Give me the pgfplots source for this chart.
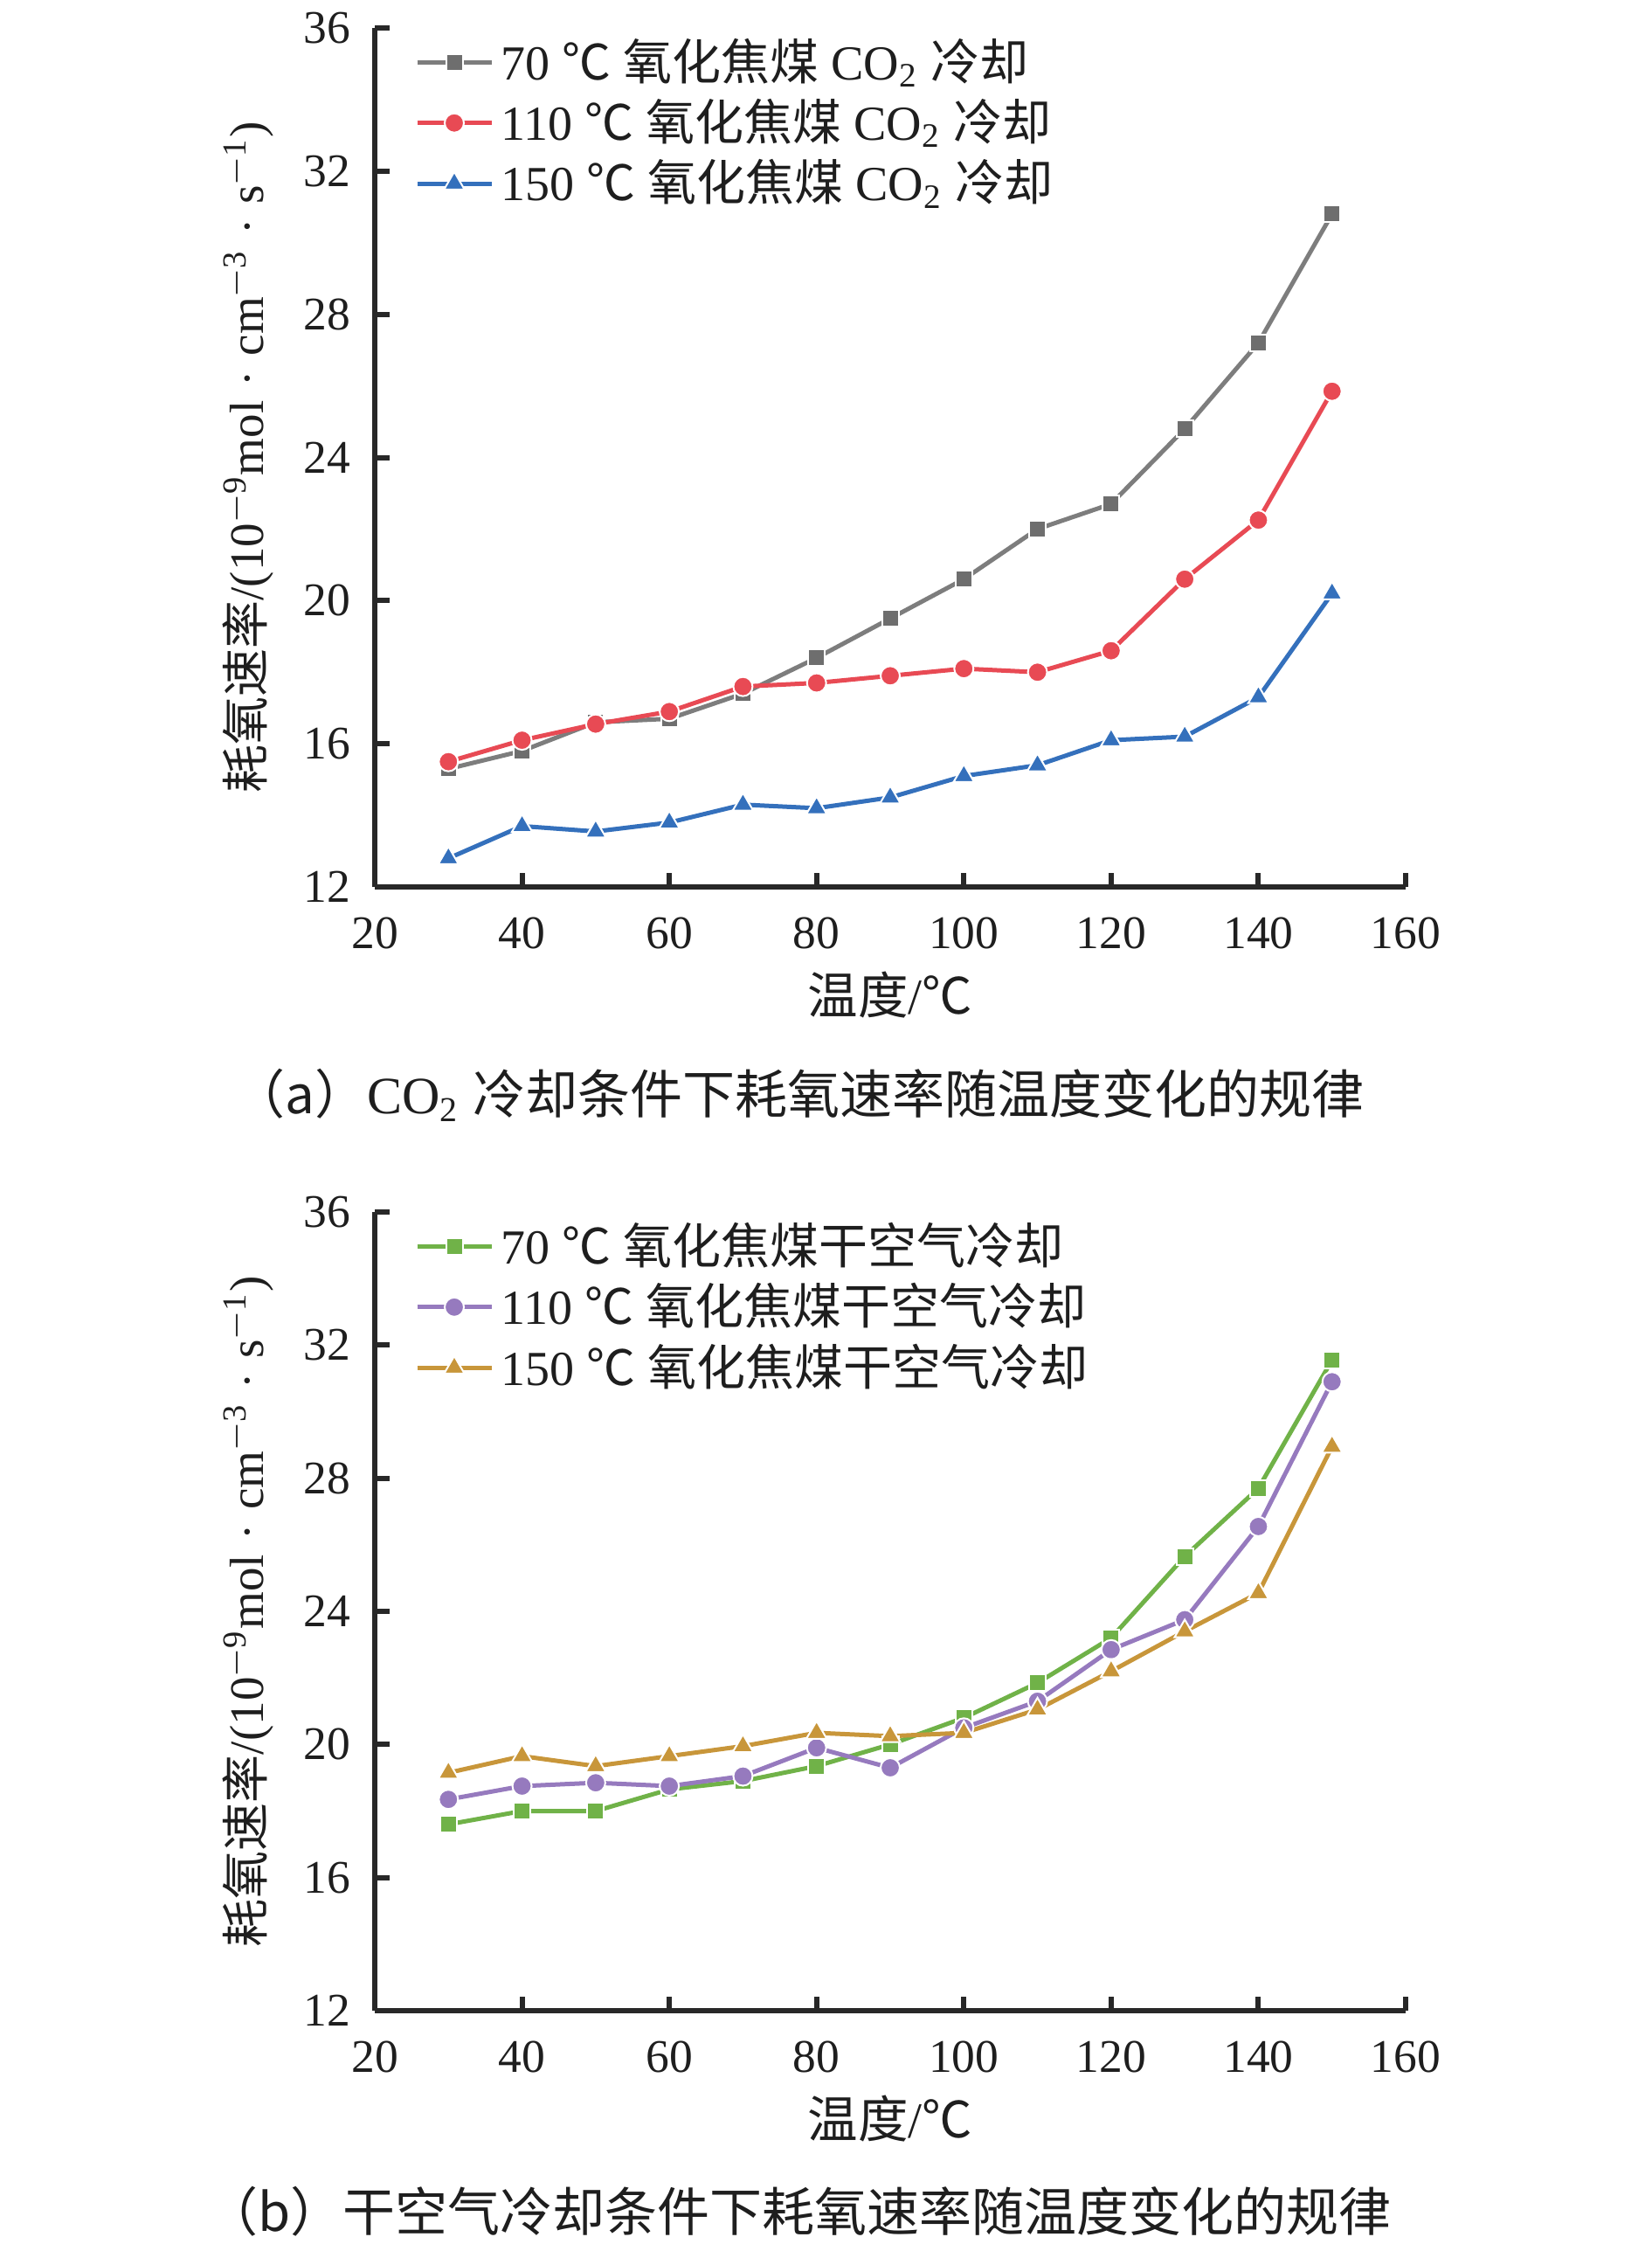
\documentclass[border=0pt]{standalone}
\usepackage{fontspec}
\setmainfont{Liberation Serif}
\newfontfamily\cjk{Noto Sans CJK SC}
\usepackage{pgfplots}
\pgfplotsset{compat=1.18}
\definecolor{axisc}{RGB}{40,40,40}
\definecolor{textc}{RGB}{30,30,30}
\definecolor{grayln}{RGB}{125,125,125}
\definecolor{graymk}{RGB}{110,110,110}
\definecolor{redc}{RGB}{232,74,84}
\definecolor{bluec}{RGB}{52,112,188}
\definecolor{greenc}{RGB}{112,178,72}
\definecolor{purplec}{RGB}{150,122,190}
\definecolor{goldc}{RGB}{200,150,58}
\newcommand{\degC}{{\cjk ℃}}
\newcommand{\dotsp}{\hspace{0.3em}·\hspace{0.3em}}
\pgfplotsset{myax/.style={
  scale only axis, width=236pt,
  xmin=20, xmax=160, ymin=12, ymax=36,
  xtick={20,40,...,160}, ytick={12,16,...,36},
  axis lines=left, axis line style={-, line width=1.2pt, color=axisc},
  tick style={line width=1.2pt, color=axisc}, major tick length=3.3pt, tick align=inside,
  ticklabel style={font=\fontsize{10.7}{12}\selectfont, color=textc},
  /pgf/number format/assume math mode=true,
  xticklabel style={yshift=-3.5pt}, yticklabel style={xshift=-2pt},
  xlabel={{\cjk 温度}/\degC},
  xlabel style={at={(axis description cs:0.5,0)}, anchor=center, yshift=-24.6pt, font=\fontsize{11.5}{13}\selectfont, color=textc},
  ylabel={{\cjk 耗氧速率}/(10\textsuperscript{$-$9}mol\dotsp cm\textsuperscript{$-$3}\dotsp s\textsuperscript{$-$1})},
  ylabel style={at={(axis description cs:-0.1229,0.5)}, anchor=center, font=\fontsize{11}{13}\selectfont, color=textc},
  clip=false,
  legend style={at={(axis description cs:0,1)}, anchor=north west, xshift=9pt, yshift=-1pt,
    draw=none, fill=none, font=\fontsize{11.2}{13}\selectfont, text=textc,
    row sep=0.5pt, inner sep=0pt, nodes={inner sep=1.2pt}},
  legend cell align=left,
  legend image code/.code={\draw[mark repeat=2,mark phase=2,#1] plot coordinates {(0pt,0pt) (8.5pt,0pt) (17pt,0pt)};},
  every axis plot/.append style={line width=1pt},
}}
\begin{document}
\begin{tikzpicture}
\useasboundingbox (0,0) rectangle (378pt,-513.6pt);
\begin{axis}[myax, height=196.6pt, at={(85.8pt,-203pt)}, anchor=south west]
\addplot[color=grayln, mark=square*, mark size=1.9pt, mark options={fill=graymk, draw=white, line width=0.4pt}]
 coordinates {(30,15.3)(40,15.8)(50,16.6)(60,16.7)(70,17.4)(80,18.4)(90,19.5)(100,20.6)(110,22.0)(120,22.7)(130,24.8)(140,27.2)(150,30.8)};
\addlegendentry{\hspace{0.5pt}70 \degC{} {\cjk 氧化焦煤} CO\textsubscript{2} {\cjk 冷却}}
\addplot[color=redc, mark=*, mark size=2.2pt, mark options={fill=redc, draw=white, line width=0.4pt}]
 coordinates {(30,15.5)(40,16.1)(50,16.55)(60,16.9)(70,17.6)(80,17.7)(90,17.9)(100,18.1)(110,18.0)(120,18.6)(130,20.6)(140,22.25)(150,25.85)};
\addlegendentry{\hspace{0.5pt}110 \degC{} {\cjk 氧化焦煤} CO\textsubscript{2} {\cjk 冷却}}
\addplot[color=bluec, mark=triangle*, mark size=2.7pt, mark options={fill=bluec, draw=white, line width=0.4pt}]
 coordinates {(30,12.8)(40,13.7)(50,13.55)(60,13.8)(70,14.3)(80,14.2)(90,14.5)(100,15.1)(110,15.4)(120,16.1)(130,16.2)(140,17.3)(150,20.2)};
\addlegendentry{\hspace{0.5pt}150 \degC{} {\cjk 氧化焦煤} CO\textsubscript{2} {\cjk 冷却}}
\end{axis}
\begin{axis}[myax, height=182.8pt, at={(85.8pt,-460.2pt)}, anchor=south west]
\addplot[color=greenc, mark=square*, mark size=1.9pt, mark options={fill=greenc, draw=white, line width=0.4pt}]
 coordinates {(30,17.6)(40,18.0)(50,18.0)(60,18.65)(70,18.9)(80,19.35)(90,20.0)(100,20.8)(110,21.85)(120,23.2)(130,25.65)(140,27.7)(150,31.55)};
\addlegendentry{\hspace{0.5pt}70 \degC{} {\cjk 氧化焦煤干空气冷却}}
\addplot[color=purplec, mark=*, mark size=2.2pt, mark options={fill=purplec, draw=white, line width=0.4pt}]
 coordinates {(30,18.35)(40,18.75)(50,18.85)(60,18.75)(70,19.05)(80,19.9)(90,19.3)(100,20.5)(110,21.3)(120,22.85)(130,23.75)(140,26.55)(150,30.9)};
\addlegendentry{\hspace{0.5pt}110 \degC{} {\cjk 氧化焦煤干空气冷却}}
\addplot[color=goldc, mark=triangle*, mark size=2.7pt, mark options={fill=goldc, draw=white, line width=0.4pt}]
 coordinates {(30,19.15)(40,19.65)(50,19.35)(60,19.65)(70,19.95)(80,20.35)(90,20.25)(100,20.35)(110,21.05)(120,22.2)(130,23.4)(140,24.55)(150,28.95)};
\addlegendentry{\hspace{0.5pt}150 \degC{} {\cjk 氧化焦煤干空气冷却}}
\end{axis}
\node[font=\fontsize{12}{14}\selectfont, text=textc] at (182.8pt,-250.6pt) {{\cjk （a）}CO\textsubscript{2} {\cjk 冷却条件下耗氧速率随温度变化的规律}};
\node[font=\fontsize{12}{14}\selectfont, text=textc] at (182.8pt,-506.2pt) {{\cjk （b）干空气冷却条件下耗氧速率随温度变化的规律}};
\end{tikzpicture}
\end{document}
